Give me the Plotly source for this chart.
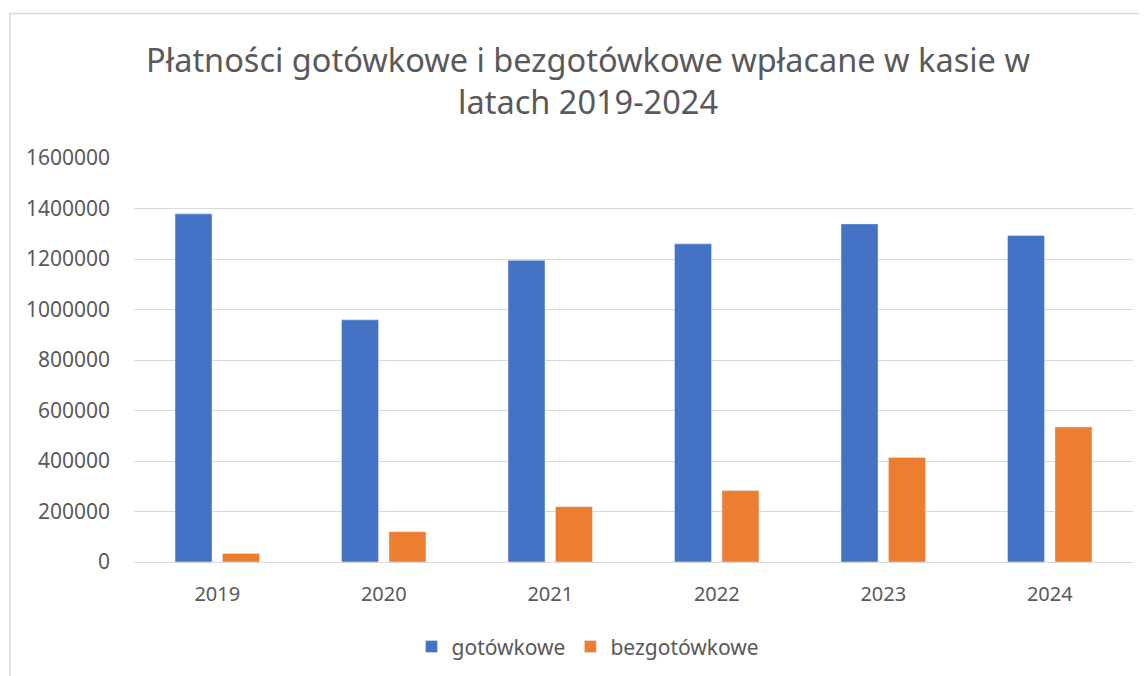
import plotly.graph_objects as go

years = ["2019", "2020", "2021", "2022", "2023", "2024"]
gotowkowe = [1379000, 959000, 1195000, 1260000, 1339000, 1293000]
bezgotowkowe = [34000, 120000, 219000, 283000, 414000, 535000]
y_ticks = [0, 200000, 400000, 600000, 800000, 1000000, 1200000, 1400000, 1600000]

fnt = "Noto Sans"
grey = "#595959"

fig = go.Figure()
fig.add_trace(go.Bar(name="gotówkowe", x=years, y=gotowkowe, marker_color="#4472c4"))
fig.add_trace(go.Bar(name="bezgotówkowe", x=years, y=bezgotowkowe, marker_color="#ed7d31"))

fig.update_layout(
    width=1147, height=676,
    paper_bgcolor="white", plot_bgcolor="white",
    margin=dict(l=126, r=22, t=150, b=122),
    barmode="group", bargap=0.43, bargroupgap=0.22,
    font=dict(family=fnt, color=grey, size=21),
    title=dict(
        text="Płatności gotówkowe i bezgotówkowe wpłacane w kasie w<br>latach 2019-2024",
        x=0.5057, xref="container", xanchor="center",
        y=0.9056, yref="container", yanchor="middle",
        font=dict(family=fnt, size=32.5, color=grey),
    ),
    legend=dict(orientation="h", x=0.5057, xref="container", xanchor="center",
                y=0.0548, yref="container", yanchor="middle",
                font=dict(size=21, color=grey), itemwidth=30, traceorder="normal"),
    showlegend=True,
)
fig.update_xaxes(showline=True, linecolor="#d9d9d9", ticks="", ticklabelstandoff=14,
                 tickfont=dict(size=20))
fig.update_yaxes(range=[0, 1600000], tickvals=y_ticks, tickformat="d",
                 showgrid=True, gridcolor="#d9d9d9", zeroline=False,
                 ticks="", ticklabelstandoff=23, tickfont=dict(size=21))

# chart border
fig.add_shape(type="rect", xref="paper", yref="paper",
              x0=(2 - 126) / 999, x1=1.05, y0=-0.4, y1=(554.5 - 6) / 404,
              line=dict(color="#d9d9d9", width=1.5), fillcolor="rgba(0,0,0,0)", layer="below")

fig.write_html("out.html")
